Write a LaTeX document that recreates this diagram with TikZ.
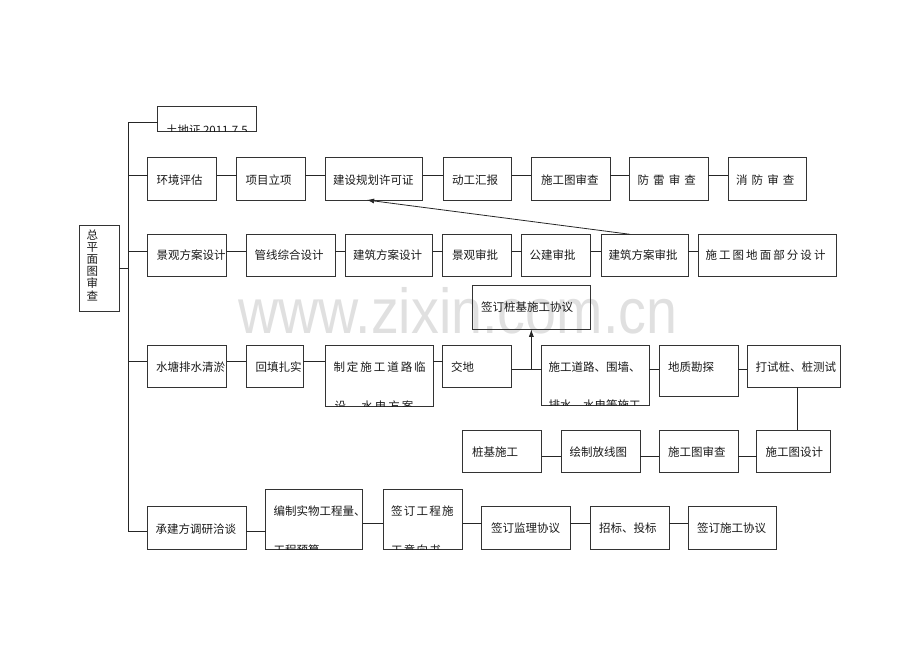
\documentclass[tikz,border=0pt]{standalone}
\usepackage{fontspec}
\setmainfont{Noto Sans CJK SC}
\newfontfamily\lsA[LetterSpace=18]{Noto Sans CJK SC}
\newfontfamily\lsB[LetterSpace=17]{Noto Sans CJK SC}
\newfontfamily\lsC[LetterSpace=11]{Noto Sans CJK SC}
\newfontfamily\lsD[LetterSpace=36]{Noto Sans CJK SC}
\newfontfamily\wmfont{Liberation Sans}
\usetikzlibrary{arrows.meta}
\newcommand\bx[5]{\node[box, minimum width={(#4)-(#2)}, minimum height={(#5)-(#3)}] (#1) at ({((#2)+(#4))/2},{((#3)+(#5))/2}) {};}
\newcommand\tx[4]{\node[lbl, anchor=west] (#1) at (#2,#3) {#4};}
\newcommand\tb[4]{\node[lbl, anchor=base west] (#1) at (#2,#3) {#4};}
\begin{document}
\begin{tikzpicture}[x={(1pt,0)}, y={(0,-1pt)},
  box/.style={draw=black!80, line width=0.9pt, inner sep=0pt, outer sep=0pt},
  lbl/.style={inner sep=0pt, outer sep=0pt, font=\fontsize{11.5}{13}\selectfont, text=black!90},
  conn/.style={draw=black!85, line width=0.8pt},
  arr/.style={conn, -{Latex[length=7.5pt,width=5pt]}}]
\useasboundingbox (0,0) rectangle (920,651);

% watermark
\node[anchor=base west, inner sep=0pt, text=black!12, font=\wmfont\fontsize{63.6}{70}\selectfont, xscale=0.875] (wm) at (238,333) {www.zixin.com.cn};

% boxes
\bx{tz}{157.5}{106}{256}{131.5}
\bx{L}{79}{225}{119}{311}
\bx{a1}{147.7}{157.3}{216.7}{200}
\bx{a2}{236.7}{157.3}{305.3}{200}
\bx{a3}{325}{157.3}{422.7}{200}
\bx{a4}{443.3}{157.3}{511.7}{200}
\bx{a5}{531}{157.3}{610}{200}
\bx{a6}{629.3}{157.3}{708.3}{200}
\bx{a7}{728.3}{157.3}{806.7}{200}
\bx{b1}{147.7}{234.3}{226.7}{276.7}
\bx{b2}{246}{234.3}{335}{276.7}
\bx{b3}{345}{234.3}{432.7}{276.7}
\bx{b4}{442.7}{234.3}{511.7}{276.7}
\bx{b5}{521.7}{234.3}{590.7}{276.7}
\bx{b6}{601}{234.3}{688.3}{276.7}
\bx{b7}{698.3}{234.3}{836.7}{276.7}
\bx{qz}{472.7}{285}{590}{329.3}
\bx{c1}{147.3}{345}{226.7}{387.3}
\bx{c2}{246}{345}{303.3}{387.3}
\bx{c3}{325}{345}{433.3}{406}
\bx{c4}{442.7}{345}{511.7}{387.3}
\bx{c5}{541.7}{345}{649.3}{405}
\bx{c6}{659.3}{345}{738.3}{396}
\bx{c7}{747.3}{345}{840}{387.3}
\bx{d1}{462.7}{430}{541.7}{472}
\bx{d2}{561}{430}{640}{472}
\bx{d3}{659.3}{430}{738.3}{472}
\bx{d4}{756.7}{430}{830.7}{472}
\bx{e1}{147.3}{506.7}{246}{549.3}
\bx{e2}{265.7}{489.3}{362.7}{549.3}
\bx{e3}{383.3}{489.3}{462.7}{549.3}
\bx{e4}{481.7}{506}{570}{549.3}
\bx{e5}{590}{506}{669}{549.3}
\bx{e6}{688.3}{506}{776.7}{549.3}

% texts
\begin{scope}
\clip (tz.south west) rectangle (tz.north east);
\tb{tzt}{166}{134.5}{土地证 2011.7.5}
\end{scope}
\node[lbl, align=center, font=\fontsize{11.5}{12.2}\selectfont] (Lt) at (92.3,265) {总\\平\\面\\图\\审\\查};
\tx{a1t}{156.5}{180}{环境评估}
\tx{a2t}{245.5}{180}{项目立项}
\tx{a3t}{333}{180}{建设规划许可证}
\tx{a4t}{452}{180}{动工汇报}
\tx{a5t}{541}{180}{施工图审查}
\tx{a6t}{637.5}{180}{\lsD 防雷审查}
\tx{a7t}{736}{180}{\lsD 消防审查}
\tx{b1t}{156.5}{255.3}{景观方案设计}
\tx{b2t}{254.5}{255.3}{管线综合设计}
\tx{b3t}{353}{255.3}{建筑方案设计}
\tx{b4t}{452}{255.3}{景观审批}
\tx{b5t}{529.5}{255.3}{公建审批}
\tx{b6t}{608.5}{255.3}{建筑方案审批}
\tx{b7t}{705.5}{255.3}{\lsA 施工图地面部分设计}
\tx{qzt}{481}{307.3}{签订桩基施工协议}
\tx{c1t}{156}{367}{水塘排水清淤}
\tx{c2t}{255.5}{367}{回填扎实}
\begin{scope}
\clip (c3.south west) rectangle (c3.north east);
\tx{c3t}{333.5}{367}{\lsB 制定施工道路临}
\tb{c3u}{334.5}{410}{\lsB 设、水电方案}
\end{scope}
\tx{c4t}{451}{367}{交地}
\begin{scope}
\clip (c5.south west) rectangle (c5.north east);
\tx{c5t}{548.5}{367}{施工道路、围墙、}
\tb{c5u}{548.5}{409.5}{排水、水电等施工}
\end{scope}
\tx{c6t}{668}{367}{地质勘探}
\tx{c7t}{755.5}{367}{打试桩、桩测试}
\tx{d1t}{472}{451.7}{桩基施工}
\tx{d2t}{569.5}{451.7}{绘制放线图}
\tx{d3t}{668}{451.7}{施工图审查}
\tx{d4t}{765.5}{451.7}{施工图设计}
\tx{e1t}{155.5}{529.5}{承建方调研洽谈}
\begin{scope}
\clip (e2.south west) rectangle (e2.north east);
\tx{e2t}{273.5}{511}{编制实物工程量、}
\tb{e2u}{273.5}{554}{工程预算}
\end{scope}
\begin{scope}
\clip (e3.south west) rectangle (e3.north east);
\tx{e3t}{391}{511}{\lsC 签订工程施}
\tb{e3u}{391}{554}{\lsC 工意向书}
\end{scope}
\tx{e4t}{491}{528.5}{签订监理协议}
\tx{e5t}{599}{528.5}{招标、投标}
\tx{e6t}{697}{528.5}{签订施工协议}

% row levels
\coordinate (r1) at (0,175.3);
\coordinate (r2) at (0,251.7);
\coordinate (rL) at (0,268.3);
\coordinate (r3a) at (0,361);
\coordinate (r3b) at (0,369.5);
\coordinate (r4) at (0,456);
\coordinate (r5a) at (0,531.7);
\coordinate (r5b) at (0,523.5);
\coordinate (tt) at (128.5,122.7);
\coordinate (tbt) at (128.5,531.7);
\coordinate (ax1) at (630,0);
\coordinate (ax2) at (366.7,0);
\coordinate (vx) at (797,0);

% trunk and branches
\draw[conn] (tz.west |- tt) -- (tt) -- (tbt) -- (e1.west |- tbt);
\draw[conn] (tt |- r1) -- (a1.west |- r1);
\draw[conn] (tt |- r2) -- (b1.west |- r2);
\draw[conn] (tt |- r3a) -- (c1.west |- r3a);
\draw[conn] (L.east |- rL) -- (tt |- rL);

% row connectors
\foreach \p/\q in {a1/a2,a2/a3,a3/a4,a4/a5,a5/a6,a6/a7}
  \draw[conn] (\p.east |- r1) -- (\q.west |- r1);
\foreach \p/\q in {b1/b2,b2/b3,b3/b4,b4/b5,b5/b6,b6/b7}
  \draw[conn] (\p.east |- r2) -- (\q.west |- r2);
\foreach \p/\q in {c1/c2,c2/c3,c3/c4}
  \draw[conn] (\p.east |- r3a) -- (\q.west |- r3a);
\foreach \p/\q in {c4/c5,c5/c6,c6/c7}
  \draw[conn] (\p.east |- r3b) -- (\q.west |- r3b);
\foreach \p/\q in {d1/d2,d2/d3,d3/d4}
  \draw[conn] (\p.east |- r4) -- (\q.west |- r4);
\draw[conn] (e1.east |- r5a) -- (e2.west |- r5a);
\foreach \p/\q in {e2/e3,e3/e4,e4/e5,e5/e6}
  \draw[conn] (\p.east |- r5b) -- (\q.west |- r5b);

% other links
\draw[arr] (b6.north -| ax1) -- (a3.south -| ax2);
\draw[arr] (qz.south |- r3b) -- (qz.south);
\draw[conn] (c7.south -| vx) -- (d4.north -| vx);
\end{tikzpicture}
\end{document}
